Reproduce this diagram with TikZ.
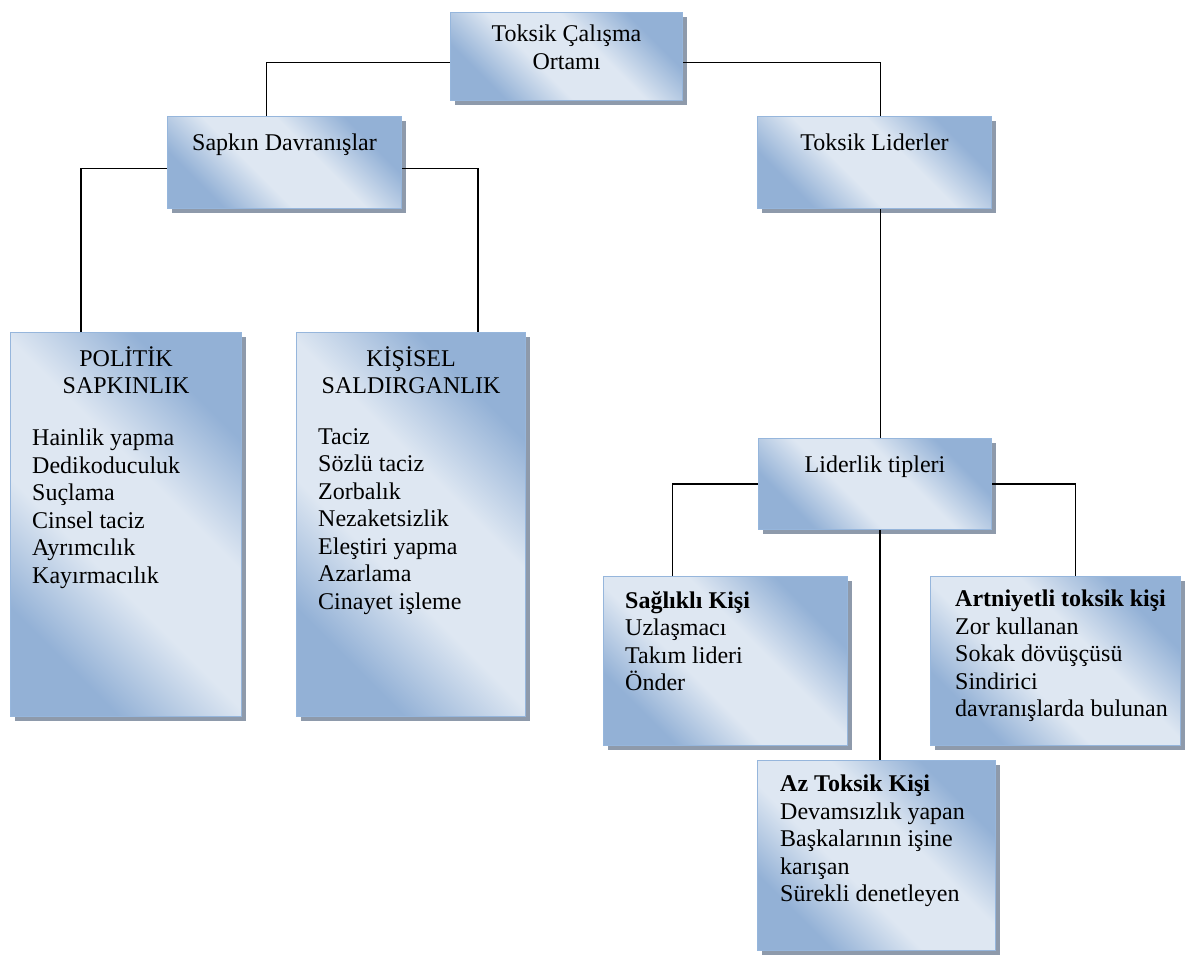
\documentclass[tikz,border=0pt]{standalone}
\usepackage{fontspec}
\setmainfont{Liberation Serif}
\usetikzlibrary{positioning,shadows,calc}
\definecolor{tcDark}{RGB}{147,177,214}
\definecolor{tcLight}{RGB}{222,231,242}
\definecolor{tcBorder}{RGB}{150,182,220}
\definecolor{tcShadow}{RGB}{142,154,171}
\newcommand{\tcFont}{\fontsize{24}{27.5}\selectfont}
\pgfdeclareverticalshading{tcShade}{100bp}{color(0bp)=(tcDark); color(27bp)=(tcDark); color(42bp)=(tcLight); color(58bp)=(tcLight); color(73bp)=(tcDark); color(100bp)=(tcDark)}
\tikzset{
    tcBoxBase/.style={
        rectangle,
        draw=tcBorder,
        line width=1.1pt,
        inner sep=0pt,
        anchor=north west,
        shading=tcShade,
        shading angle=-45,
        drop shadow={shadow xshift=4pt, shadow yshift=-4pt, fill=tcShadow, opacity=1}
    },
    % Texts
    tcHead/.style={font=\tcFont, align=center, inner sep=0pt, execute at begin node=\strut},
    tcList/.style={font=\tcFont, align=left, inner sep=0pt, execute at begin node=\strut},
    % Lines
    tcLine/.style={draw=black, line width=1.3pt}
}
\begin{document}
\begin{tikzpicture}[x=1pt, y=-1pt]
    \useasboundingbox (0,0) rectangle (1185,956);

    % boxes
    \node[tcBoxBase, minimum width=232pt, minimum height=88pt] (ortam) at (450,12) {};
    \node[tcBoxBase, minimum width=234pt, minimum height=92pt] (sapkin) at (167,116) {};
    \node[tcBoxBase, minimum width=234pt, minimum height=92pt] (lider) at (757,116) {};
    \node[tcBoxBase, minimum width=231pt, minimum height=384pt] (politik) at (10,332) {};
    \node[tcBoxBase, minimum width=229pt, minimum height=384pt] (kisisel) at (296,332) {};
    \node[tcBoxBase, minimum width=233pt, minimum height=91pt] (tipler) at (758,438) {};
    \node[tcBoxBase, minimum width=244pt, minimum height=169pt] (saglikli) at (603,576) {};
    \node[tcBoxBase, minimum width=250pt, minimum height=169pt] (artniyet) at (930,576) {};
    \node[tcBoxBase, minimum width=238pt, minimum height=190pt] (aztoksik) at (757,760) {};

    % texts
    \node[tcHead, below=13pt of ortam.north] (ortamText) {Toksik Çalışma\\Ortamı};
    \node[tcHead, below=15pt of sapkin.north] (sapkinText) {Sapkın Davranışlar};
    \node[tcHead, below=15pt of lider.north] (liderText) {Toksik Liderler};
    \node[tcHead, below=14pt of politik.north] (politikHead) {POLİTİK\\SAPKINLIK};
    \node[tcList, below right=97pt and 22pt of politik.north west] (politikList)
        {Hainlik yapma\\Dedikoduculuk\\Suçlama\\Cinsel taciz\\Ayrımcılık\\Kayırmacılık};
    \node[tcHead, below=14pt of kisisel.north] (kisiselHead) {KİŞİSEL\\SALDIRGANLIK};
    \node[tcList, below right=96pt and 22pt of kisisel.north west] (kisiselList)
        {Taciz\\Sözlü taciz\\Zorbalık\\Nezaketsizlik\\Eleştiri yapma\\Azarlama\\Cinayet işleme};
    \node[tcHead, below=15pt of tipler.north] (tiplerText) {Liderlik tipleri};
    \node[tcList, below right=15pt and 22pt of saglikli.north west] (saglikliText)
        {\textbf{Sağlıklı Kişi}\\Uzlaşmacı\\Takım lideri\\Önder};
    \node[tcList, below right=14pt and 25pt of artniyet.north west] (artniyetText)
        {\textbf{Artniyetli toksik kişi}\\Zor kullanan\\Sokak dövüşçüsü\\Sindirici\\davranışlarda bulunan};
    \node[tcList, below right=15pt and 23pt of aztoksik.north west] (aztoksikText)
        {\textbf{Az Toksik Kişi}\\Devamsızlık yapan\\Başkalarının işine\\karışan\\Sürekli denetleyen};

    % connectors
    \draw[tcLine] ([yshift=-6pt]ortam.west) -| ([xshift=-18pt]sapkin.north);
    \draw[tcLine] ([yshift=-6pt]ortam.east) -| ([xshift=6pt]lider.north);
    \draw[tcLine] ([yshift=-6pt]sapkin.west) -| ([xshift=-45pt]politik.north);
    \draw[tcLine] ([yshift=-6pt]sapkin.east) -| ([xshift=67pt]kisisel.north);
    \draw[tcLine] ([xshift=6pt]lider.south) -- ([xshift=6pt]lider.south |- tipler.north);
    \draw[tcLine] (tipler.west) -| ([xshift=-53pt]saglikli.north);
    \draw[tcLine] (tipler.east) -| ([xshift=20pt]artniyet.north);
    \draw[tcLine] ([xshift=5pt]tipler.south) -- ([xshift=5pt]tipler.south |- aztoksik.north);
\end{tikzpicture}
\end{document}
